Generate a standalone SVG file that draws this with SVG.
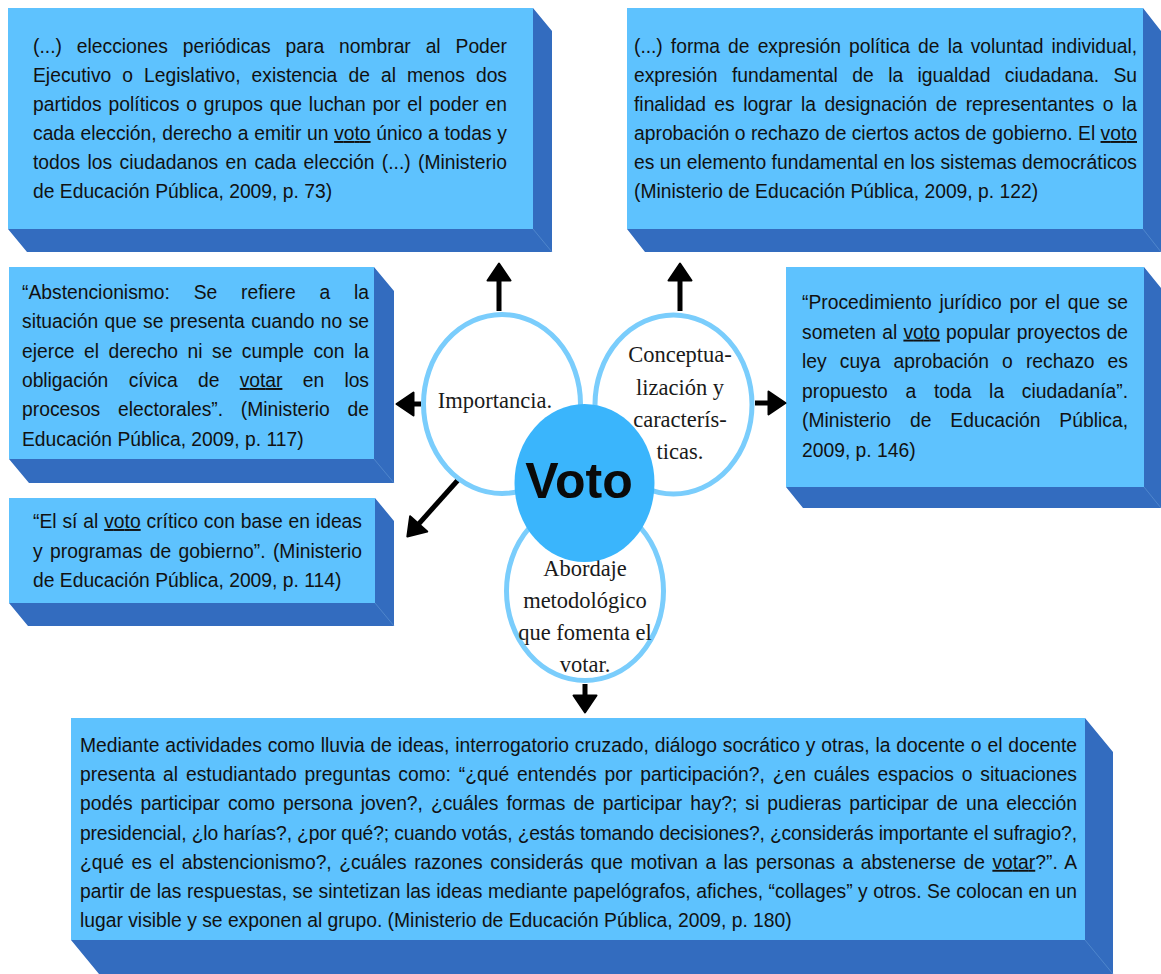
<svg xmlns="http://www.w3.org/2000/svg" width="1161" height="974" viewBox="0 0 1161 974">
<defs>
<style>
.face{fill:#5EC2FE}
.side{fill:#336CBF}
.edge{stroke:#4F86CC;stroke-width:1;fill:none}
.t{font-family:"Liberation Sans",Arial,sans-serif;font-size:19.3px;fill:#111}
.u{text-decoration:underline}
.c{font-family:"Liberation Serif","Times New Roman",serif;font-size:22.5px;fill:#1a1a1a;text-anchor:middle}
.ring{fill:#fff;stroke:#7ACDFC;stroke-width:5}
.arrow{stroke:#000;stroke-width:5;fill:none;marker-end:url(#ah)}
</style>
<marker id="ah" viewBox="0 0 20 26" refX="4" refY="13" markerWidth="20" markerHeight="26" markerUnits="userSpaceOnUse" orient="auto">
<path d="M1.5,1.5 L18.5,13 L1.5,24.5 Z" fill="#000" stroke="#000" stroke-width="2" stroke-linejoin="round"/>
</marker>
</defs>
<rect width="1161" height="974" fill="#fff"/>

<g id="box-elecciones">
<polygon class="side" points="533,8 552,31 552,252 27,252 8,229 533,229"/>
<line class="edge" x1="533" y1="229" x2="552" y2="252"/>
<rect class="face" x="8" y="8" width="525" height="221"/>
<text class="t" x="33" y="53" textLength="474" lengthAdjust="spacing" style="word-spacing:9.5px">(...) elecciones periódicas para nombrar al Poder</text>
<text class="t" x="33" y="82" textLength="474" lengthAdjust="spacing" style="word-spacing:5.7px">Ejecutivo o Legislativo, existencia de al menos dos</text>
<text class="t" x="33" y="111" textLength="474" lengthAdjust="spacing" style="word-spacing:1.5px">partidos políticos o grupos que luchan por el poder en</text>
<text class="t" x="33" y="140" textLength="474" lengthAdjust="spacing" style="word-spacing:0.3px">cada elección, derecho a emitir un <tspan class="u">voto</tspan> único a todas y</text>
<text class="t" x="33" y="169" textLength="474" lengthAdjust="spacing" style="word-spacing:2px">todos los ciudadanos en cada elección (...) (Ministerio</text>
<text class="t" x="33" y="198">de Educación Pública, 2009, p. 73)</text>
</g>

<g id="box-forma">
<polygon class="side" points="1143,8 1161,31 1161,252 645,252 627,229 1143,229"/>
<line class="edge" x1="1143" y1="229" x2="1161" y2="252"/>
<rect class="face" x="627" y="8" width="516" height="221"/>
<text class="t" x="634" y="53" textLength="503" lengthAdjust="spacing" style="word-spacing:2.8px">(...) forma de expresión política de la voluntad individual,</text>
<text class="t" x="634" y="82" textLength="503" lengthAdjust="spacing" style="word-spacing:9.1px">expresión fundamental de la igualdad ciudadana. Su</text>
<text class="t" x="634" y="111" textLength="503" lengthAdjust="spacing" style="word-spacing:3.1px">finalidad es lograr la designación de representantes o la</text>
<text class="t" x="634" y="140" textLength="503" lengthAdjust="spacing">aprobación o rechazo de ciertos actos de gobierno. El <tspan class="u">voto</tspan></text>
<text class="t" x="634" y="169" textLength="503" lengthAdjust="spacing">es un elemento fundamental en los sistemas democráticos</text>
<text class="t" x="634" y="198">(Ministerio de Educación Pública, 2009, p. 122)</text>
</g>

<g id="box-abstencionismo">
<polygon class="side" points="374,267 394,291 394,483 29,483 9,459 374,459"/>
<line class="edge" x1="374" y1="459" x2="394" y2="483"/>
<rect class="face" x="9" y="267" width="365" height="192"/>
<text class="t" x="22" y="299" textLength="347" lengthAdjust="spacing" style="word-spacing:18.4px">“Abstencionismo: Se refiere a la</text>
<text class="t" x="22" y="328" textLength="347" lengthAdjust="spacing" style="word-spacing:1px">situación que se presenta cuando no se</text>
<text class="t" x="22" y="357.5" textLength="347" lengthAdjust="spacing" style="word-spacing:4.1px">ejerce el derecho ni se cumple con la</text>
<text class="t" x="22" y="387" textLength="347" lengthAdjust="spacing" style="word-spacing:15.1px">obligación cívica de <tspan class="u">votar</tspan> en los</text>
<text class="t" x="22" y="416" textLength="347" lengthAdjust="spacing" style="word-spacing:12.4px">procesos electorales”. (Ministerio de</text>
<text class="t" x="22" y="445.5">Educación Pública, 2009, p. 117)</text>
</g>

<g id="box-si-al-voto">
<polygon class="side" points="375,498 394,521 394,626 28,626 9,603 375,603"/>
<line class="edge" x1="375" y1="603" x2="394" y2="626"/>
<rect class="face" x="9" y="498" width="366" height="105"/>
<text class="t" x="33" y="528" textLength="329" lengthAdjust="spacing" style="word-spacing:0.5px">“El sí al <tspan class="u">voto</tspan> crítico con base en ideas</text>
<text class="t" x="33" y="557.5" textLength="329" lengthAdjust="spacing" style="word-spacing:2px">y programas de gobierno”. (Ministerio</text>
<text class="t" x="33" y="587">de Educación Pública, 2009, p. 114)</text>
</g>

<g id="box-procedimiento">
<polygon class="side" points="1144,267 1161,288 1161,508 803,508 786,487 1144,487"/>
<line class="edge" x1="1144" y1="487" x2="1161" y2="508"/>
<rect class="face" x="786" y="267" width="358" height="220"/>
<text class="t" x="802" y="309" textLength="326" lengthAdjust="spacing" style="word-spacing:2.3px">“Procedimiento jurídico por el que se</text>
<text class="t" x="802" y="338.6" textLength="326" lengthAdjust="spacing" style="word-spacing:0.8px">someten al <tspan class="u">voto</tspan> popular proyectos de</text>
<text class="t" x="802" y="368.2" textLength="326" lengthAdjust="spacing" style="word-spacing:7.7px">ley cuya aprobación o rechazo es</text>
<text class="t" x="802" y="397.8" textLength="326" lengthAdjust="spacing" style="word-spacing:12.3px">propuesto a toda la ciudadanía”.</text>
<text class="t" x="802" y="427.4" textLength="326" lengthAdjust="spacing" style="word-spacing:13.6px">(Ministerio de Educación Pública,</text>
<text class="t" x="802" y="457">2009, p. 146)</text>
</g>

<g id="box-abordaje">
<polygon class="side" points="1085,718 1113,752 1113,974 99,974 71,940 1085,940"/>
<line class="edge" x1="1085" y1="940" x2="1113" y2="974"/>
<rect class="face" x="71" y="718" width="1014" height="222"/>
<text class="t" x="80" y="752" textLength="997" lengthAdjust="spacing" style="word-spacing:0.5px">Mediante actividades como lluvia de ideas, interrogatorio cruzado, diálogo socrático y otras, la docente o el docente</text>
<text class="t" x="80" y="781.2" textLength="997" lengthAdjust="spacing" style="word-spacing:2.4px">presenta al estudiantado preguntas como: “¿qué entendés por participación?, ¿en cuáles espacios o situaciones</text>
<text class="t" x="80" y="810.4" textLength="997" lengthAdjust="spacing" style="word-spacing:2.6px">podés participar como persona joven?, ¿cuáles formas de participar hay?; si pudieras participar de una elección</text>
<text class="t" x="80" y="839.6" textLength="997" lengthAdjust="spacing">presidencial, ¿lo harías?, ¿por qué?; cuando votás, ¿estás tomando decisiones?, ¿considerás importante el sufragio?,</text>
<text class="t" x="80" y="868.8" textLength="997" lengthAdjust="spacing" style="word-spacing:2.1px">¿qué es el abstencionismo?, ¿cuáles razones considerás que motivan a las personas a abstenerse de <tspan class="u">votar</tspan>?”. A</text>
<text class="t" x="80" y="898" textLength="997" lengthAdjust="spacing">partir de las respuestas, se sintetizan las ideas mediante papelógrafos, afiches, “collages” y otros. Se colocan en un</text>
<text class="t" x="80" y="927.2">lugar visible y se exponen al grupo. (Ministerio de Educación Pública, 2009, p. 180)</text>
</g>

<g id="connectors">
<line class="arrow" x1="499" y1="311" x2="499" y2="278"/>
<line class="arrow" x1="680" y1="311" x2="680" y2="278"/>
<line class="arrow" x1="421" y1="404" x2="411" y2="404"/>
<line class="arrow" x1="755" y1="403" x2="771" y2="403"/>
<line class="arrow" x1="458" y1="480" x2="417" y2="525.8"/>
<line class="arrow" x1="585" y1="684" x2="585" y2="698"/>
</g>

<g id="node-importancia">
<ellipse class="ring" cx="502" cy="404" rx="78.5" ry="89.5"/>
<text class="c" x="495" y="408">Importancia.</text>
</g>

<g id="node-conceptualizacion">
<ellipse class="ring" cx="673.5" cy="404.5" rx="78.5" ry="89.5"/>
<text class="c" x="680" y="362">Conceptua-</text>
<text class="c" x="680" y="394.5">lización y</text>
<text class="c" x="680" y="426.5">caracterís-</text>
<text class="c" x="680" y="459">ticas.</text>
</g>

<g id="node-abordaje">
<ellipse class="ring" cx="585" cy="591" rx="78.5" ry="89.5"/>
<text class="c" x="585" y="576">Abordaje</text>
<text class="c" x="585" y="608">metodológico</text>
<text class="c" x="585" y="640">que fomenta el</text>
<text class="c" x="585" y="672">votar.</text>
</g>

<g id="node-voto">
<ellipse cx="584.5" cy="483" rx="70" ry="79" fill="#3AB5FC"/>
<text x="579" y="498" text-anchor="middle" style="font-family:'Liberation Sans',Arial,sans-serif;font-weight:bold;font-size:50px;fill:#0a0a0a">Voto</text>
</g>
</svg>
